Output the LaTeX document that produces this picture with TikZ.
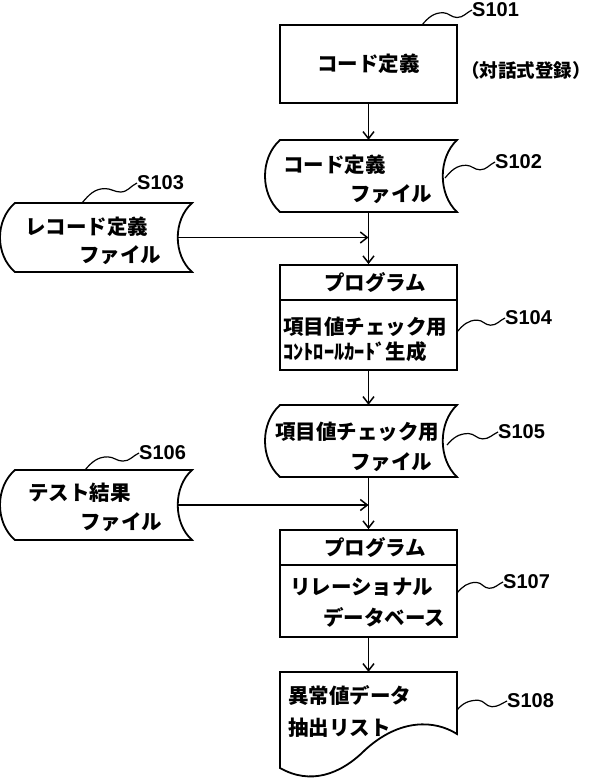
\documentclass[tikz,border=0pt]{standalone}
\usepackage{fontspec}
\setmainfont{Liberation Sans}
\newfontfamily\jp{Noto Sans CJK JP}
\usetikzlibrary{arrows.meta,calc}
\newcommand\jpfont{\jp\bfseries\fontsize{20.5}{24}\selectfont}
\newcommand\lblfont{\bfseries\fontsize{20}{24}\selectfont}
\tikzset{
  box/.style={draw, line width=1.8pt, minimum width=177pt, inner sep=0pt},
  area/.style={draw=none, inner sep=0pt, minimum width=177pt},
  jtxt/.style={font=\jpfont, inner sep=0pt, anchor=west},
  lbl/.style={font=\lblfont, inner sep=0pt, anchor=west},
  conn/.style={line width=1.5pt, -{Straight Barb[length=7pt,width=11pt,line width=1.5pt]}},
  sq/.style={line width=1.2pt},
  outline/.style={line width=1.8pt, line join=miter}
}
\newcommand\squig[2]{%
  \draw[sq] (#1) to[out=50,in=180] ($(#1)!0.42!(#2)+(0,-6)$) to[out=0,in=180] ($(#1)!0.7!(#2)+(0,3)$) to[out=0,in=205] (#2);}
\begin{document}
\begin{tikzpicture}[x=1pt,y=-1pt]
\useasboundingbox (0,0) rectangle (592,782);
% S101
\node[box, minimum height=78pt, font=\jpfont] (s101) at (368.5,64) {コード定義};
\node[jtxt, font=\jp\bfseries\fontsize{18.5}{21}\selectfont] (t101b) at (461,70) {（対話式登録）};
% S102
\node[area, minimum height=72pt] (s102) at (368.5,176) {};
\draw[outline] (280,140) -- (457,140) .. controls (438,158) and (438,194) .. (457,212) -- (280,212) .. controls (260,194) and (260,158) .. (280,140) -- cycle;
\node[jtxt] (t102a) at (283,165) {コード定義};
\node[jtxt] (t102b) at (350,194) {ファイル};
% S103
\node[area, minimum height=69pt] (s103) at (103.5,237.5) {};
\draw[outline] (15,203) -- (192,203) .. controls (173,220) and (173,255) .. (192,272) -- (15,272) .. controls (-5,255) and (-5,220) .. (15,203) -- cycle;
\node[jtxt] (t103a) at (25,227) {レコード定義};
\node[jtxt] (t103b) at (79,255) {ファイル};
% S104
\node[box, minimum height=105pt] (s104) at (368.5,317.5) {};
\draw[outline] (280,300) -- (457,300);
\node[font=\jpfont, inner sep=0pt] (t104a) at (375,283) {プログラム};
\node[jtxt] (t104b) at (283,327) {項目値チェック用};
\node[jtxt] (t104c) at (283,352) {ｺﾝﾄﾛｰﾙｶｰﾄﾞ生成};
% S105
\node[area, minimum height=72pt] (s105) at (368.5,441) {};
\draw[outline] (280,405) -- (457,405) .. controls (438,423) and (438,459) .. (457,477) -- (280,477) .. controls (260,459) and (260,423) .. (280,405) -- cycle;
\node[jtxt] (t105a) at (275,432) {項目値チェック用};
\node[jtxt] (t105b) at (350,462) {ファイル};
% S106
\node[area, minimum height=70pt] (s106) at (103.5,505) {};
\draw[outline] (15,470) -- (192,470) .. controls (173,487) and (173,523) .. (192,540) -- (15,540) .. controls (-5,523) and (-5,487) .. (15,470) -- cycle;
\node[jtxt] (t106a) at (28,493) {テスト結果};
\node[jtxt] (t106b) at (80,522) {ファイル};
% S107
\node[box, minimum height=107pt] (s107) at (368.5,583.5) {};
\draw[outline] (280,565) -- (457,565);
\node[font=\jpfont, inner sep=0pt] (t107a) at (375,548) {プログラム};
\node[jtxt] (t107b) at (290,587) {リレーショナル};
\node[jtxt] (t107c) at (323,617) {データベース};
% S108
\node[area, minimum height=96pt] (s108) at (368.5,720) {};
\draw[outline] (280,672) -- (457,672) -- (457,734) .. controls (435,720) and (400,718) .. (365,750) .. controls (340,775) and (310,785) .. (280,768) -- cycle;
\node[jtxt] (t108a) at (288,695) {異常値データ};
\node[jtxt] (t108b) at (288,728) {抽出リスト};
% connectors
\draw[conn] (s101.south) -- (s102.north);
\draw[conn] (s102.south) -- (s104.north);
\draw[conn] (s104.south) -- (s105.north);
\draw[conn] (s105.south) -- (s107.north);
\draw[conn] (s107.south) -- (s108.north);
\draw[conn, line width=1pt] ([xshift=-15pt]s103.east) -- (s103.east -| s102.south);
\draw[conn] ([xshift=-15pt]s106.east) -- (s106.east -| s105.south);
% labels
\node[lbl] (l101) at (472,10) {S101};
\node[lbl] (l102) at (495,162) {S102};
\node[lbl] (l103) at (137,183) {S103};
\node[lbl] (l104) at (505,318) {S104};
\node[lbl] (l105) at (498,432) {S105};
\node[lbl] (l106) at (139,453) {S106};
\node[lbl] (l107) at (503,582) {S107};
\node[lbl] (l108) at (507,701) {S108};
\coordinate (c101) at (422,25);
\coordinate (c102) at (445,178);
\coordinate (c103) at (82,203);
\coordinate (c104) at (457,332);
\coordinate (c105) at (447,445);
\coordinate (c106) at (85,470);
\coordinate (c107) at (457,593);
\coordinate (c108) at (457,710);
\squig{c101}{l101.west}
\squig{c102}{l102.west}
\squig{c103}{l103.west}
\squig{c104}{l104.west}
\squig{c105}{l105.west}
\squig{c106}{l106.west}
\squig{c107}{l107.west}
\squig{c108}{l108.west}
\end{tikzpicture}
\end{document}
